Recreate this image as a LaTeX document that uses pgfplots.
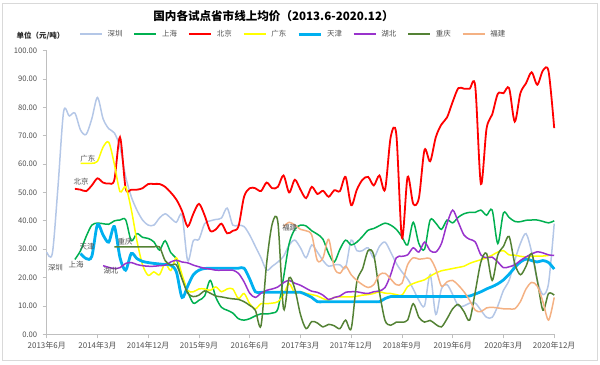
\documentclass[border=0pt]{standalone}
\usepackage{pgfplots}
\pgfplotsset{compat=1.18}
\usepackage{fontspec}
\setmainfont{Noto Sans CJK SC}
\definecolor{cSZ}{RGB}{180,199,231}
\definecolor{cSH}{RGB}{0,176,80}
\definecolor{cBJ}{RGB}{255,0,0}
\definecolor{cGD}{RGB}{255,255,0}
\definecolor{cTJ}{RGB}{0,176,240}
\definecolor{cHB}{RGB}{153,51,204}
\definecolor{cCQ}{RGB}{84,130,53}
\definecolor{cFJ}{RGB}{244,177,131}
\definecolor{cAx}{RGB}{191,191,191}
\definecolor{cTx}{RGB}{80,80,80}
\begin{document}
\begin{tikzpicture}[x=1bp,y=1bp]
\useasboundingbox (0,0) rectangle (600,364);
\draw[draw={rgb,255:red,217;green,217;blue,217}, line width=0.75bp] (2.5,3.5) rectangle (597.5,361);
\node[font=\bfseries\fontsize{11.6}{13}\selectfont, text=black] at (273.5,347.5) {国内各试点省市线上均价（2013.6-2020.12）};
\node[font=\bfseries\fontsize{7.5}{9}\selectfont, text=black!85] at (40.5,328.3) {单位（元/吨）};
\begin{axis}[
  at={(46.7bp,29.7bp)}, anchor=south west, scale only axis,
  width=507.5bp, height=283.6bp,
  xmin=0, xmax=90, ymin=0, ymax=100,
  axis x line*=bottom, axis y line*=left,
  axis line style={draw=cAx, line width=0.75bp},
  tick style={draw=cAx, line width=0.75bp},
  tick align=outside, major tick length=4bp,
  xtick={0,9,...,90},
  xticklabels={2013年6月,2014年3月,2014年12月,2015年9月,2016年6月,2017年3月,2017年12月,2018年9月,2019年6月,2020年3月,2020年12月},
  ytick={0,10,...,100},
  /pgf/number format/assume math mode=true,
  ticklabel style={font=\fontsize{7.7}{9}\selectfont, text=cTx},
  yticklabel style={xshift=-2bp, /pgf/number format/.cd, fixed, fixed zerofill, precision=2},
  xticklabel style={font=\fontsize{8}{9}\selectfont},
  legend columns=8,
  legend style={at={(axis description cs:0.0637,1)}, anchor=west, yshift=16.5bp,
    draw=none, fill=none, font=\fontsize{7.5}{9}\selectfont, text=cTx, inner sep=0pt,
    /tikz/every odd column/.append style={column sep=3bp},
    /tikz/every even column/.append style={column sep=9bp}},
  legend image code/.code={\draw[#1] (0bp,0bp) -- (22bp,0bp);},
  every axis plot/.append style={smooth, line width=1.5bp},
  clip=false,
]
\addplot[cSZ] coordinates {(0,29) (1,28.5) (2,52) (3,78.5) (4,77) (5,78) (6,72) (7,70.5) (8,76) (9,83.5) (10,76) (11,72.5) (12,71) (13,66) (14,55.6) (15,48.5) (16,43.8) (17,40.3) (18,38.5) (19,38.5) (20,41) (21,42.5) (22,41) (23,39.5) (24,42) (25,26) (26,33) (27,33.5) (28,39) (29,40) (30,40.5) (31,41) (32,44.5) (33,38.5) (34,38.5) (35,38) (36,35) (37,31) (38,27) (39,22.6) (40,24) (41,25.5) (42,27.5) (43,31.5) (44,33.2) (45,30.5) (46,27) (47,31.5) (48,29) (49,26) (50,24) (51,24.5) (52,24.5) (53,23.5) (54,33.2) (55,29.5) (56,29.5) (57,30.5) (58,27) (59,31) (60,32.5) (61,29) (62,25) (63,22) (64,19.5) (65,16) (66,12) (67,10) (68,21) (69,7) (70,16) (71,17.5) (72,14) (73,10) (74,10) (75,11) (76,11) (77,8.5) (78,6) (79,6) (80,10) (81,15.5) (82,19) (83,26) (84,32) (85,35.5) (86,29) (87,19) (88,14) (89,18) (90,39)};
\addlegendentry{深圳}
\addplot[cSH] coordinates {(5,26.4) (6,29.5) (7,34.5) (8,38.5) (9,39.2) (10,39) (11,38.8) (12,40) (13,40.3) (14,40.4) (15,33) (16,35.5) (17,34.2) (18,33.8) (19,32.6) (20,29.7) (21,33) (22,28.8) (23,26.5) (24,20) (25,15) (26,11) (27,12) (28,13.5) (29,19) (30,13) (31,9.5) (32,8.5) (33,7.5) (34,5.5) (35,5) (36,5.5) (37,6.5) (38,7.2) (39,7.2) (40,7.5) (41,9) (42,20) (43,32) (44,37) (45,38.5) (46,38.2) (47,36.5) (48,35.3) (49,33.5) (50,28.5) (51,25.5) (52,30) (53,33.2) (54,31.5) (55,32.5) (56,34.5) (57,36.7) (58,37.3) (59,38.3) (60,39.2) (61,38.5) (62,37) (63,34.4) (64,31.5) (65,39.5) (66,32) (67,30) (68,40.3) (69,39.2) (70,37) (71,40.3) (72,39.3) (73,41.3) (74,42.5) (75,43) (76,43) (77,43.8) (78,42) (79,43.8) (80,32) (81,42.8) (82,41.2) (83,39.8) (84,39.7) (85,40.2) (86,40.3) (87,40.3) (88,39.8) (89,39.3) (90,40)};
\addlegendentry{上海}
\addplot[cBJ, line width=1.8bp] coordinates {(5,51.3) (6,51) (7,50.5) (8,52.5) (9,55) (10,53.5) (11,53.2) (12,54.5) (13,69.5) (14,51.5) (15,51) (16,51) (17,51.5) (18,53) (19,53) (20,53) (21,52) (22,50) (23,47.5) (24,43.5) (25,38) (26,42.5) (27,46) (28,42) (29,36.5) (30,37) (31,39) (32,35.6) (33,36.5) (34,38) (35,48.5) (36,51.5) (37,51.5) (38,50.5) (39,53.5) (40,51.5) (41,52) (42,56) (43,50) (44,54.5) (45,51) (46,48) (47,52) (48,49.5) (49,50.6) (50,48.5) (51,50.8) (52,50.5) (53,55.5) (54,45.5) (55,51) (56,54.5) (57,55.5) (58,52.5) (59,56) (60,51) (61,69.5) (62,70.5) (63,34) (64,55.5) (65,46) (66,48) (67,65) (68,61) (69,69.5) (70,74) (71,76.5) (72,82) (73,86.8) (74,86.6) (75,86.6) (76,87.4) (77,53) (78,72.5) (79,77.5) (80,84.8) (81,85) (82,86.8) (83,75) (84,85) (85,88.5) (86,92.4) (87,88) (88,93) (89,92.7) (90,72.7)};
\addlegendentry{北京}
\addplot[cGD] coordinates {(6,60.3) (7,60.3) (8,60.3) (9,61) (10,66) (11,67.7) (12,60) (13,50.3) (14,52) (15,44) (16,33) (17,24.5) (18,20.8) (19,22) (20,21) (21,25) (22,22.5) (23,27) (24,21) (25,15.5) (26,15) (27,16) (28,16) (29,15.5) (30,16.7) (31,15) (32,16) (33,16) (34,12.6) (35,14.4) (36,10.8) (37,9) (38,10.8) (39,10.8) (40,11) (41,11.5) (42,14) (43,17.9) (44,14.5) (45,15) (46,14.4) (47,14) (48,13.5) (49,12.6) (50,12) (51,13) (52,13.2) (53,13.2) (54,13.2) (55,13.4) (56,13.8) (57,14) (58,14.4) (59,15) (60,14.5) (61,14.4) (62,14) (63,13.8) (64,16.8) (65,17.9) (66,18.6) (67,19.2) (68,20.5) (69,21.6) (70,22.4) (71,22.8) (72,23.2) (73,23.6) (74,24) (75,25) (76,25.7) (77,26.3) (78,27) (79,27.9) (80,29) (81,29.5) (82,28) (83,27.9) (84,27.5) (85,27.3) (86,27.5) (87,27.6) (88,27.6) (89,27.8)};
\addlegendentry{广东}
\addplot[cTJ, line width=2.8bp] coordinates {(6,28.5) (7,26.7) (8,27.5) (9,38.7) (10,35) (11,32.5) (12,38) (13,27) (14,22.6) (15,28.5) (16,26.7) (17,25.7) (18,25.3) (19,25) (20,24.8) (21,24.6) (22,24.4) (23,22) (24,13) (25,17) (26,21) (27,22.6) (28,23.2) (29,23.3) (30,23.3) (31,23.3) (32,23.3) (33,23.3) (34,23.3) (35,23.3) (36,19.5) (37,15) (38,14.8) (39,14.8) (40,14.8) (41,14.8) (42,14.8) (43,14.8) (44,14.8) (45,14.8) (46,14) (47,13) (48,11.5) (49,11.5) (50,11.5) (51,11.5) (52,11.5) (53,11.5) (54,11.5) (55,11.5) (56,11.5) (57,11.5) (58,11.5) (59,11.5) (60,12.6) (61,13.3) (62,13.3) (63,13.3) (64,13.3) (65,13.3) (66,13.3) (67,13.3) (68,13.3) (69,13.3) (70,13.3) (71,13.3) (72,13.3) (73,13.3) (74,13.3) (75,13.5) (76,14.2) (77,15) (78,16) (79,16.8) (80,17.8) (81,19.2) (82,21.2) (83,23.5) (84,25.5) (85,26.5) (86,26) (87,25.5) (88,26) (89,25.3) (90,23)};
\addlegendentry{天津}
\addplot[cHB] coordinates {(10,24.2) (11,23.6) (12,23.2) (13,23.5) (14,25) (15,25.3) (16,24.6) (17,24.2) (18,24) (19,24) (20,24.2) (21,24.4) (22,25.5) (23,26.1) (24,25.5) (25,25.2) (26,24.4) (27,23.8) (28,23.3) (29,23) (30,22.6) (31,22.6) (32,22.6) (33,22.6) (34,21.5) (35,18.5) (36,14.5) (37,13) (38,14.5) (39,15.5) (40,16) (41,16.7) (42,18.2) (43,19) (44,18) (45,17.3) (46,16.2) (47,15.2) (48,14.8) (49,13.8) (50,12.3) (51,13) (52,13.5) (53,14.8) (54,15) (55,15) (56,14.6) (57,14.4) (58,15) (59,15.3) (60,16.5) (61,21) (62,27) (63,27.5) (64,28) (65,30.5) (66,29) (67,32.5) (68,29.5) (69,29) (70,32) (71,39) (72,43.8) (73,39.5) (74,35) (75,33.5) (76,32.6) (77,28) (78,27) (79,27.2) (80,25.5) (81,23.5) (82,23.8) (83,24.5) (84,26) (85,27.3) (86,28.3) (87,29.1) (88,28.7) (89,28) (90,27.8)};
\addlegendentry{湖北}
\addplot[cCQ] coordinates {(12,30.8) (13,30.8) (14,30.8) (15,30.8) (16,30.8) (17,30.8) (18,30.8) (19,30.8) (20,30.8) (21,26) (22,24.4) (23,24.5) (24,19.5) (25,14.5) (26,13.3) (27,13.8) (28,15.3) (29,14.5) (30,13.5) (31,13.2) (32,12.8) (33,12.5) (34,12.3) (35,11.5) (36,10.2) (37,8.5) (38,3) (39,25) (40,39) (41,39.5) (42,9) (43,20) (44,16) (45,7) (46,2) (47,4.5) (48,4) (49,2.6) (50,3.5) (51,3) (52,2) (53,5) (54,2) (55,18.5) (56,23) (57,29.5) (58,28) (59,15) (60,4.9) (61,3.2) (62,4.3) (63,4.3) (64,5) (65,10.8) (66,6) (67,4.3) (68,4.9) (69,3.5) (70,2.6) (71,5.5) (72,9) (73,10.5) (74,8) (75,5) (76,15) (77,25.5) (78,28.5) (79,19) (80,28) (81,31) (82,34.5) (83,25) (84,21) (85,24) (86,28.5) (87,19) (88,8.5) (89,14.4) (90,13.8)};
\addlegendentry{重庆}
\addplot[cFJ] coordinates {(42,38) (43,39.5) (44,38.5) (45,37) (46,36.5) (47,35) (48,26) (49,27) (50,33.5) (51,23.5) (52,21.5) (53,24) (54,21) (55,19) (56,17.5) (57,16.5) (58,17.5) (59,21) (60,21.5) (61,19.5) (62,17.5) (63,18) (64,24.5) (65,27) (66,26.5) (67,26.7) (68,26.7) (69,23) (70,17) (71,18.5) (72,19) (73,17.3) (74,15) (75,12) (76,8.5) (77,8) (78,9.3) (79,9.5) (80,9.3) (81,9) (82,9) (83,9) (84,11.5) (85,16) (86,18.3) (87,17) (88,11.5) (89,5) (90,13)};
\addlegendentry{福建}
\begin{scope}[every node/.style={font=\fontsize{7.5}{9}\selectfont, text=cTx}]
\node at (axis cs:1.56,23.5) {深圳};
\node at (axis cs:5.2,24.4) {上海};
\node at (axis cs:7.15,30.9) {天津};
\node at (axis cs:13.9,32.5) {重庆};
\node at (axis cs:11.4,22.4) {湖北};
\node at (axis cs:6.1,53.9) {北京};
\node at (axis cs:7.3,62) {广东};
\node at (axis cs:43.1,37.5) {福建};
\end{scope}
\end{axis}
\end{tikzpicture}
\end{document}
